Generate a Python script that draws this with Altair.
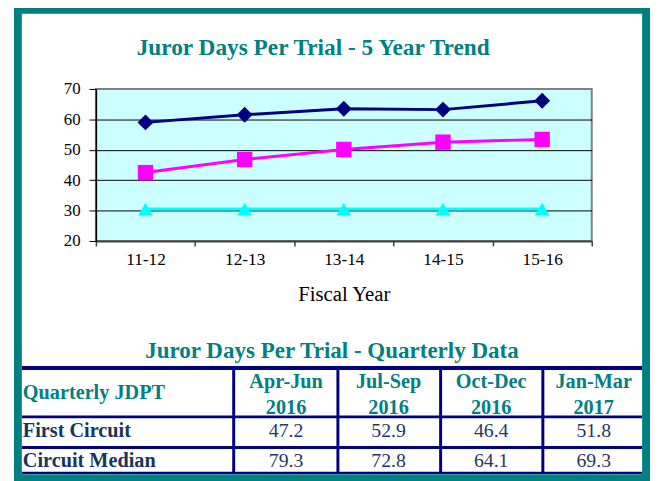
import altair as alt
import pandas as pd

# ---------------- data ----------------
chart_title = "Juror Days Per Trial - 5 Year Trend"
table_title = "Juror Days Per Trial - Quarterly Data"
x_title = "Fiscal Year"

fiscal_years = ["11-12", "12-13", "13-14", "14-15", "15-16"]
series_names = ["Circuit Median", "First Circuit", "Standard"]
circuit_median_trend = [59.0, 61.5, 63.5, 63.2, 66.1]
first_circuit_trend = [42.5, 46.8, 50.1, 52.5, 53.4]
standard_trend = [30.5, 30.5, 30.5, 30.5, 30.5]
series_colors = ["#000080", "#FF00FF", "#00FFFF"]
series_shapes = ["diamond", "square", "triangle-up"]
series_widths = [3, 3, 4]
series_sizes = [260, 225, 220]

header_label = "Quarterly JDPT"
quarters = ["Apr-Jun", "Jul-Sep", "Oct-Dec", "Jan-Mar"]
quarter_years = ["2016", "2016", "2016", "2017"]
row_labels = ["First Circuit", "Circuit Median"]
first_circuit_q = [47.2, 52.9, 46.4, 51.8]
circuit_median_q = [79.3, 72.8, 64.1, 69.3]

TEAL = "#008080"
NAVY = "#000080"
FONT = "Liberation Serif"

# ---------------- tables ----------------
trend_rows = []
for name, vals in zip(series_names, [circuit_median_trend, first_circuit_trend, standard_trend]):
    for yr, v in zip(fiscal_years, vals):
        trend_rows.append({"series": name, "year": yr, "value": v})
trend_df = pd.DataFrame(trend_rows)

header_df = pd.DataFrame({"quarter": quarters, "qyear": quarter_years})
val_rows = []
for lab, vals in zip(row_labels, [first_circuit_q, circuit_median_q]):
    for q, v in zip(quarters, vals):
        val_rows.append({"row": lab, "quarter": q, "value": f"{v:.1f}"})
val_df = pd.DataFrame(val_rows)
rowlab_df = pd.DataFrame({"row": row_labels})

one = pd.DataFrame({"k": [0]})

# page coordinate -> plot-relative coordinate
OX, OY = 97, 87
def rx(X):
    return X - OX
def ry(Y):
    return Y - OY

# ---------------- line chart ----------------
x_enc = alt.X(
    "year:N",
    sort=fiscal_years,
    bandPosition=0.5,
    scale=alt.Scale(type="band", paddingInner=0, paddingOuter=0),
    axis=alt.Axis(
        title=x_title, labelAngle=0, tickBand="extent", grid=False,
        domainColor="#404040", domainWidth=2, tickColor="#404040", tickWidth=1.5,
        tickSize=5, labelPadding=5, labelFontSize=17.5, labelColor="black",
        titleFontSize=21, titleFontWeight="normal", titleColor="black", titlePadding=16,
    ),
)
y_enc = alt.Y(
    "value:Q",
    scale=alt.Scale(domain=[20, 70], nice=False, zero=False),
    axis=alt.Axis(
        title=None, values=[20, 30, 40, 50, 60, 70], grid=True,
        gridColor={"condition": {"test": "datum.value >= 70 || datum.value <= 20", "value": "transparent"}, "value": "black"},
        gridWidth=1, domainColor="black", domainWidth=1.5, tickColor="black",
        tickSize=7, labelPadding=9, labelFontSize=17, labelColor="black",
    ),
)
color_enc = alt.Color("series:N", scale=alt.Scale(domain=series_names, range=series_colors), legend=None)

lines = alt.Chart(trend_df).mark_line().encode(
    x=x_enc, y=y_enc, color=color_enc,
    strokeWidth=alt.StrokeWidth("series:N", scale=alt.Scale(domain=series_names, range=series_widths), legend=None),
    detail="series:N",
)
points = alt.Chart(trend_df).mark_point(filled=True, opacity=1).encode(
    x=x_enc, y=y_enc, color=color_enc,
    shape=alt.Shape("series:N", scale=alt.Scale(domain=series_names, range=series_shapes), legend=None),
    size=alt.Size("series:N", scale=alt.Scale(domain=series_names, range=series_sizes), legend=None),
)
trend = alt.layer(lines, points)

# ---------------- titles ----------------
def text_at(txt, X, Y, size, weight="bold", color=TEAL, align="center"):
    return alt.Chart(pd.DataFrame({"t": [txt]})).mark_text(
        font=FONT, fontSize=size, fontWeight=weight, color=color, align=align, baseline="alphabetic"
    ).encode(text="t:N", x=alt.value(rx(X)), y=alt.value(ry(Y)))

title1 = text_at(chart_title, 317, 53, 23.6)
title2 = text_at(table_title, 336, 359.5, 23.3)
hdr_label = text_at(header_label, 23, 401, 20.5, align="left")

# ---------------- table ----------------
qx = alt.X("quarter:N", sort=quarters,
           scale=alt.Scale(type="point", range=[rx(289.5), rx(601)], padding=0), axis=None)
row_y = alt.Y("row:N", sort=row_labels,
              scale=alt.Scale(type="point", range=[ry(439), ry(469.5)], padding=0), axis=None)

hdr_names = alt.Chart(header_df).mark_text(
    font=FONT, fontSize=20.5, fontWeight="bold", color=TEAL, baseline="alphabetic"
).encode(x=qx, y=alt.value(ry(390)), text="quarter:N")
hdr_years = alt.Chart(header_df).mark_text(
    font=FONT, fontSize=20.5, fontWeight="bold", color=TEAL, baseline="alphabetic"
).encode(x=qx, y=alt.value(ry(416.5)), text="qyear:N")
vals_text = alt.Chart(val_df).mark_text(
    font=FONT, fontSize=20, color="#1F3864", baseline="alphabetic"
).encode(x=qx, y=row_y, text="value:N")
row_text = alt.Chart(rowlab_df).mark_text(
    font=FONT, fontSize=20.5, fontWeight="bold", color="#17365D", align="left", baseline="alphabetic"
).encode(x=alt.value(rx(23)), y=row_y, text="row:N")

def hrule(Y, w):
    return alt.Chart(one).mark_rule(color=NAVY, strokeWidth=w).encode(
        x=alt.value(rx(22)), x2=alt.value(rx(650)), y=alt.value(ry(Y)))
def vrule(X, w):
    return alt.Chart(one).mark_rule(color=NAVY, strokeWidth=w).encode(
        x=alt.value(rx(X)), y=alt.value(ry(369)), y2=alt.value(ry(477)))

rules = [hrule(369.5, 4), hrule(419, 3), hrule(450, 3), hrule(475.7, 2.5),
         vrule(236.5, 3), vrule(342, 3), vrule(446, 3), vrule(549.5, 3)]

border = alt.Chart(one).mark_rect(fillOpacity=0, stroke=TEAL, strokeWidth=8).encode(
    x=alt.value(rx(18)), x2=alt.value(rx(654)), y=alt.value(ry(7)), y2=alt.value(ry(481)))

chart = alt.layer(
    trend, title1, title2, hdr_label, hdr_names, hdr_years, vals_text, row_text, *rules, border
).resolve_scale(
    x="independent", y="independent"
).properties(
    width=502, height=154,
    autosize=alt.AutoSizeParams(type="none"),
    padding={"left": 89, "top": 79, "right": 61, "bottom": 240},
    background="white",
).configure_view(
    fill="#CCFFFF", stroke="#808080", strokeWidth=2
).configure_axis(
    labelFont=FONT, titleFont=FONT
)

chart.save("out.html", embed_options={"renderer": "svg", "actions": False})
